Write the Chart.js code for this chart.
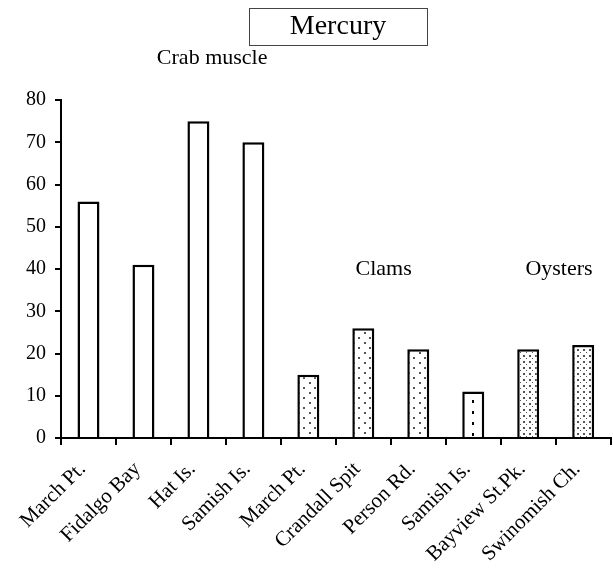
<!DOCTYPE html>
<html>
<head>
<meta charset="utf-8">
<script src="https://cdn.jsdelivr.net/npm/chart.js@4/dist/chart.umd.min.js"></script>
<style>
  html, body { margin: 0; padding: 0; background: #fff; overflow: hidden; font-family: 'Liberation Serif', serif; }
</style>
</head>
<body>
<canvas id="myChart" width="613" height="571"></canvas>
<script>
const sites = ['March Pt.', 'Fidalgo Bay', 'Hat Is.', 'Samish Is.', 'March Pt.',
  'Crandall Spit', 'Person Rd.', 'Samish Is.', 'Bayview St.Pk.', 'Swinomish Ch.']
const mercury = [56, 41, 75, 70, 15, 26, 21, 11, 21, 22]
// which fill each bar uses
const fills = ['plain', 'plain', 'plain', 'plain', 'clam', 'clam', 'clam', 'square', 'oyster', 'oyster']
const groups = [
  { label: 'Crab muscle', at: 2.75, value: 90 },
  { label: 'Clams', at: 5.87, value: 40 },
  { label: 'Oysters', at: 9.06, value: 40 }
]
const yTicks = [0, 10, 20, 30, 40, 50, 60, 70, 80]
const serif = "'Liberation Serif', serif"

function makePattern(kind) {
  const c = document.createElement('canvas')
  const ctx = c.getContext('2d')
  if (kind === 'plain') return '#fff'
  if (kind === 'clam') {
    c.width = 11; c.height = 10
    ctx.fillStyle = '#fff'; ctx.fillRect(0, 0, 11, 10)
    ctx.fillStyle = '#555'
    ctx.fillRect(1, 2, 2, 2)
    ctx.fillRect(6, 7, 2, 2)
  } else if (kind === 'oyster') {
    c.width = 6; c.height = 6
    ctx.fillStyle = '#fff'; ctx.fillRect(0, 0, 6, 6)
    ctx.fillStyle = '#555'
    ctx.fillRect(1, 1, 2, 2)
    ctx.fillRect(4, 4, 1, 1)
  } else {
    c.width = 22; c.height = 11
    ctx.fillStyle = '#fff'; ctx.fillRect(0, 0, 22, 11)
    ctx.fillStyle = '#000'
    ctx.fillRect(10, 4, 2, 3)
  }
  return ctx.createPattern(c, 'repeat')
}

const annotate = {
  id: 'annotate',
  afterDraw(chart) {
    const ctx = chart.ctx
    const x = chart.scales.x
    const y = chart.scales.y
    ctx.save()
    // title box
    ctx.fillStyle = '#000'
    ctx.font = '28px ' + serif
    ctx.textAlign = 'center'
    ctx.textBaseline = 'middle'
    ctx.fillText('Mercury', 338, 27)
    ctx.strokeStyle = '#444'
    ctx.lineWidth = 1
    ctx.strokeRect(249.5, 8.5, 178, 37)
    // group labels
    ctx.font = '22px ' + serif
    groups.forEach(g => {
      const px = x.left + (x.right - x.left) * g.at / sites.length
      ctx.fillText(g.label, px, y.getPixelForValue(g.value))
    })
    ctx.restore()
  }
}

const config = {
  type: 'bar',
  data: {
    labels: sites,
    datasets: [{
      label: 'Mercury',
      data: mercury,
      backgroundColor: fills.map(makePattern),
      borderColor: '#000',
      borderWidth: 2.5,
      barPercentage: 0.4,
      categoryPercentage: 1
    }]
  },
  options: {
    responsive: false,
    animation: false,
    layout: { padding: { top: 100, left: 0, right: 0, bottom: 0 } },
    plugins: { legend: { display: false }, tooltip: { enabled: false } },
    scales: {
      x: {
        offset: true,
        grid: {
          offset: true,
          drawOnChartArea: false,
          drawTicks: true,
          tickLength: 7,
          color: '#000',
          lineWidth: 2
        },
        border: { color: '#000', width: 2 },
        ticks: {
          color: '#000',
          font: { family: serif, size: 21 },
          maxRotation: 45,
          minRotation: 45,
          padding: 12,
          labelOffset: -6,
          autoSkip: false
        },
        afterFit(scale) { scale.height = 133 }
      },
      y: {
        min: 0,
        max: 80,
        afterBuildTicks(scale) { scale.ticks = yTicks.map(v => ({ value: v })) },
        grid: {
          drawOnChartArea: false,
          tickLength: 6,
          color: '#000',
          lineWidth: 2
        },
        border: { color: '#000', width: 2 },
        ticks: {
          color: '#000',
          font: { family: serif, size: 20 },
          padding: 9
        },
        afterFit(scale) { scale.width = 61 }
      }
    }
  },
  plugins: [annotate]
}

let myChart
document.fonts.load('20px "Liberation Serif"').finally(() => {
  myChart = new Chart(document.getElementById('myChart'), config)
})
</script>
</body>
</html>
